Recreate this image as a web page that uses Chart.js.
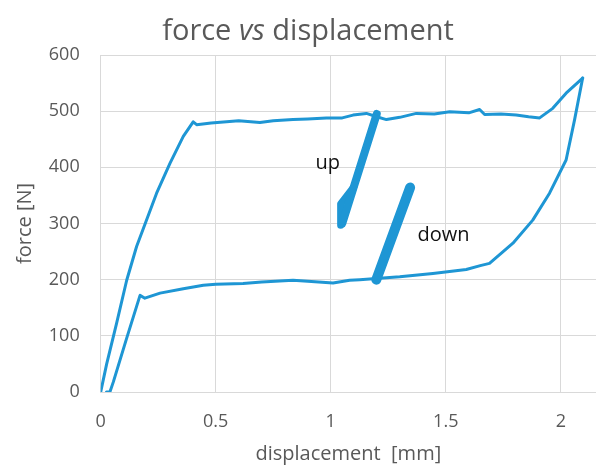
<!DOCTYPE html>
<html>
<head>
<meta charset="utf-8">
<script src="https://cdn.jsdelivr.net/npm/chart.js@4"></script>
<style>
  html, body { margin: 0; padding: 0; background: #fff; overflow: hidden; }
  #wrap { width: 596px; height: 466px; }
</style>
</head>
<body>
<div id="wrap"><canvas id="myChart" width="596" height="466"></canvas></div>
<script>
// loading branch (upper) [mm] / [N]
var loadX = [0, 0.026, 0.069, 0.113, 0.156, 0.243, 0.301, 0.359, 0.402, 0.417, 0.48, 0.547, 0.6, 0.692, 0.75, 0.836, 0.9, 0.981, 1.05, 1.097, 1.155, 1.2, 1.242, 1.3, 1.372, 1.45, 1.517, 1.6, 1.647, 1.669, 1.74, 1.806, 1.86, 1.908, 1.965, 2.023, 2.095];
var loadF = [0, 50, 122, 199, 259, 354, 407, 455, 481, 476, 479, 481, 483, 480, 483, 485, 486, 488, 488, 493, 496, 490, 485, 489, 496, 495, 499, 497, 503, 494, 495, 493, 490, 488, 505, 532, 559];

// unloading branch (lower)
var unloadX = [2.095, 2.06, 2.023, 1.951, 1.878, 1.792, 1.69, 1.65, 1.589, 1.444, 1.3, 1.198, 1.126, 1.082, 1.01, 0.9, 0.836, 0.7, 0.619, 0.5, 0.446, 0.359, 0.258, 0.192, 0.171, 0.113, 0.055, 0.04, 0.025];
var unloadF = [559, 485, 413, 354, 306, 265, 229, 225, 218, 211, 205, 202, 200, 199, 194, 197, 199, 196, 193, 192, 190, 184, 176, 167, 172, 96, 18, 0, 0];

// direction markers
var upMarkX = [1.05, 1.2];
var upMarkF = [300, 495];
var upBaseX = [1.043, 1.043, 1.1];
var upBaseF = [297, 335, 365];
var downMarkX = [1.198, 1.345];
var downMarkF = [200, 364];

var labelText = ["up", "down"];
var labelX = [0.987, 1.49];
var labelF = [408, 279];

var xTicks = [0, 0.5, 1, 1.5, 2];

var blue = "#1E96D4";
var grey = "#595959";

function pts(xs, ys) {
  var out = [];
  for (var i = 0; i < xs.length; i++) out.push({x: xs[i], y: ys[i]});
  return out;
}

var titlePlugin = {
  id: "mixedTitle",
  afterDraw: function (chart) {
    var ctx = chart.ctx;
    ctx.save();
    ctx.fillStyle = grey;
    ctx.textBaseline = "alphabetic";
    var parts = [["force ", "normal"], ["vs", "italic"], [" displacement", "normal"]];
    var total = 0;
    parts.forEach(function (p) {
      ctx.font = p[1] + " 29px 'Open Sans'";
      total += ctx.measureText(p[0]).width;
    });
    var x = 308 - total / 2;
    parts.forEach(function (p) {
      ctx.font = p[1] + " 29px 'Open Sans'";
      ctx.fillText(p[0], x, 40);
      x += ctx.measureText(p[0]).width;
    });
    // up / down labels
    ctx.fillStyle = "#111";
    ctx.font = "20px 'Open Sans'";
    ctx.textAlign = "center";
    ctx.textBaseline = "middle";
    for (var i = 0; i < labelText.length; i++) {
      ctx.fillText(labelText[i], chart.scales.x.getPixelForValue(labelX[i]), chart.scales.y.getPixelForValue(labelF[i]));
    }
    ctx.restore();
  }
};

function lineSet(data, width) {
  return {
    data: data,
    showLine: true,
    borderColor: blue,
    backgroundColor: blue,
    borderWidth: width,
    pointRadius: 0,
    tension: 0,
    borderCapStyle: "round",
    borderJoinStyle: "round"
  };
}

new Chart("myChart", {
  type: "scatter",
  data: {
    datasets: [
      lineSet(pts(loadX, loadF), 3),
      lineSet(pts(unloadX, unloadF), 3),
      lineSet(pts(upMarkX, upMarkF), 8),
      lineSet(pts(upBaseX, upBaseF), 7),
      lineSet(pts(downMarkX, downMarkF), 10)
    ]
  },
  plugins: [titlePlugin],
  options: {
    responsive: false,
    animation: false,
    layout: { padding: { top: 55, right: 0, left: 0, bottom: 0 } },
    plugins: {
      legend: { display: false },
      tooltip: { enabled: false }
    },
    scales: {
      x: {
        type: "linear",
        min: 0,
        max: 2.153,
        afterBuildTicks: function (s) {
          s.ticks = xTicks.map(function (v) { return {value: v}; });
        },
        afterFit: function (s) { s.height = 74; },
        grid: { color: "#d9d9d9", lineWidth: 1, drawTicks: false },
        border: { color: "#d9d9d9" },
        ticks: {
          padding: 19,
          color: grey,
          font: { family: "'Open Sans'", size: 18 },
          callback: function (v) { return String(v); }
        },
        title: {
          display: true,
          text: "displacement  [mm]",
          color: grey,
          font: { family: "'Open Sans'", size: 20 },
          padding: { top: 0, bottom: 0 }
        }
      },
      y: {
        min: 0,
        max: 600,
        ticks: {
          stepSize: 100,
          padding: 21,
          color: grey,
          font: { family: "'Open Sans'", size: 18 }
        },
        afterFit: function (s) { s.width = 100.7; },
        grid: { color: "#d9d9d9", lineWidth: 1, drawTicks: false },
        border: { display: false },
        title: {
          display: true,
          text: "force [N]",
          color: grey,
          font: { family: "'Open Sans'", size: 20 },
          padding: { top: 13, bottom: 0 }
        }
      }
    }
  }
});
</script>
</body>
</html>
